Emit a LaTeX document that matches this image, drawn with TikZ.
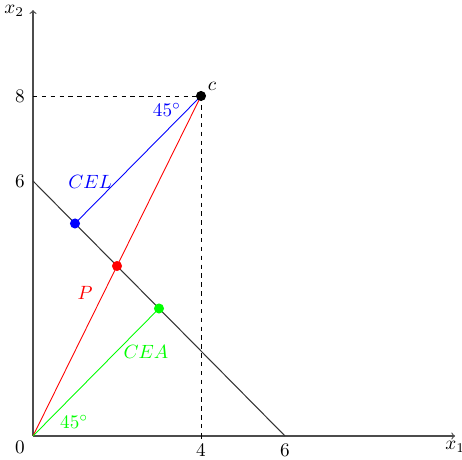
\documentclass[tikz,border=0pt]{standalone}
\begin{document}
\begin{tikzpicture}[x=1cm,y=1.012cm,
  lbl/.style={scale=1.3},
  axis/.style={draw=black!70,line width=0.8pt,->},
  dot/.style={circle,inner sep=0pt,minimum size=2.4mm}]
\useasboundingbox (-0.786cm,-0.548cm) rectangle (10.214cm,10.381cm);
\coordinate (O) at (0,0);
\coordinate (X) at (10.05,0);
\coordinate (Y) at (0,10.02);
\coordinate (A6) at (0,6);
\coordinate (B6) at (6,0);
\coordinate (Y8) at (0,8);
\coordinate (X4) at (4,0);
\draw[axis] (O) -- (X);
\draw[axis] (O) -- (Y);
\node[lbl] (lx1) at (10.05,-0.25) {$x_1$};
\node[lbl] (lx2) at (-0.45,10.0) {$x_2$};
\draw[black!80,line width=0.7pt] (A6) -- (B6);
\draw[dashed] (Y8) -- (4,8) -- (X4);
\draw (X4) -- ++(0,-0.08);
\draw[blue,line width=0.6pt] (1,5) -- (4,8);
\draw[red,line width=0.6pt] (O) -- (4,8);
\draw[green,line width=0.6pt] (O) -- (3,3);
\node[dot,fill=black] (cp) at (4,8) {};
\node[dot,fill=blue] (cel) at (1,5) {};
\node[dot,fill=red] (p) at (2,4) {};
\node[dot,fill=green] (cea) at (3,3) {};
\node[lbl] (t8) at (-0.31,8) {$8$};
\node[lbl] (t6) at (-0.31,6) {$6$};
\node[lbl] (t0) at (-0.31,-0.27) {$0$};
\node[lbl] (t4) at (4,-0.33) {$4$};
\node[lbl] (t6b) at (6,-0.33) {$6$};
\node[lbl] (lc) at (4.26,8.22) {$c$};
\node[lbl,blue] (la1) at (3.19,7.67) {$45^{\circ}$};
\node[lbl,blue] (lcel) at (1.36,5.98) {$CEL$};
\node[lbl,red] (lp) at (1.24,3.36) {$P$};
\node[lbl,green] (lcea) at (2.69,1.98) {$CEA$};
\node[lbl,green] (la2) at (0.98,0.33) {$45^{\circ}$};
\end{tikzpicture}
\end{document}
